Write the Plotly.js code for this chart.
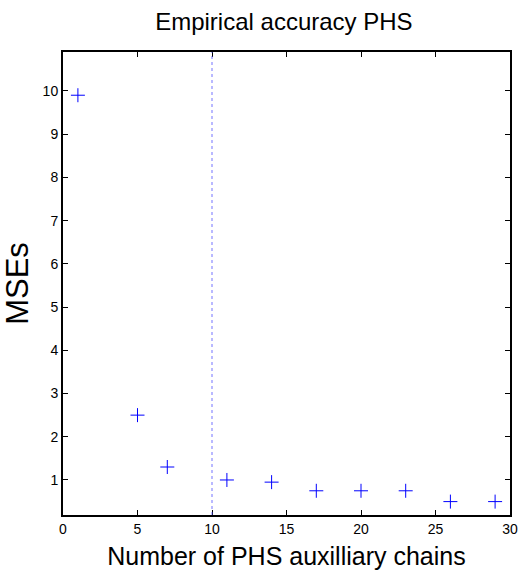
<!DOCTYPE html>
<html>
<head>
<meta charset="utf-8">
<script src="https://cdn.plot.ly/plotly-3.0.1.min.js"></script>
<style>html,body{margin:0;padding:0;background:#fff;}#chart{width:519px;height:579px;}</style>
</head>
<body>
<div id="chart"></div>
<script>
var chains = [1, 5, 7, 11, 14, 17, 20, 23, 26, 29];
var mses = [9.9, 2.5, 1.3, 1.0, 0.95, 0.75, 0.75, 0.75, 0.5, 0.5];
var markerLine = 10;
var xTicks = [0, 5, 10, 15, 20, 25, 30];
var yTicks = [1, 2, 3, 4, 5, 6, 7, 8, 9, 10];

var trace = {
  x: chains, y: mses, type: 'scatter', mode: 'markers',
  marker: {symbol: 'cross-thin-open', size: 10, color: '#0000ff', line: {color: '#0000ff', width: 1}},
  hoverinfo: 'none'
};

var regular = 'Liberation Sans, Arial, sans-serif';
var layout = {
  width: 519, height: 579,
  margin: {l: 63, r: 9, t: 52, b: 64},
  paper_bgcolor: '#fff', plot_bgcolor: '#fff',
  showlegend: false,
  title: {text: 'Empirical accuracy PHS', font: {family: regular, size: 24, color: '#000'}, x: 0.547, xanchor: 'center', y: 0.962, yanchor: 'middle'},
  xaxis: {
    range: [0, 30], tickvals: xTicks, ticktext: xTicks.map(String),
    ticks: 'inside', ticklen: 5, tickcolor: '#000', tickwidth: 1,
    showline: true, linecolor: '#000', linewidth: 2, mirror: 'allticks',
    showgrid: false, zeroline: false,
    tickfont: {family: regular, size: 14, color: '#000'},
    title: {text: 'Number of PHS auxilliary chains', font: {family: regular, size: 25, color: '#000'}, standoff: 12}
  },
  yaxis: {
    range: [0.19, 10.9], tickvals: yTicks, ticktext: yTicks.map(String),
    ticks: 'inside', ticklen: 5, tickcolor: '#000', tickwidth: 1,
    showline: true, linecolor: '#000', linewidth: 2, mirror: 'allticks',
    showgrid: false, zeroline: false,
    tickfont: {family: regular, size: 14, color: '#000'},
    title: {text: 'MSEs', font: {family: regular, size: 31, color: '#000'}, standoff: 6}
  },
  shapes: [{
    type: 'line', xref: 'x', yref: 'paper', x0: markerLine, x1: markerLine, y0: 0, y1: 1,
    line: {color: 'rgba(80,80,255,0.8)', width: 1, dash: 'dot'}
  }]
};

Plotly.newPlot('chart', [trace], layout, {staticPlot: true, displayModeBar: false});
</script>
</body>
</html>
